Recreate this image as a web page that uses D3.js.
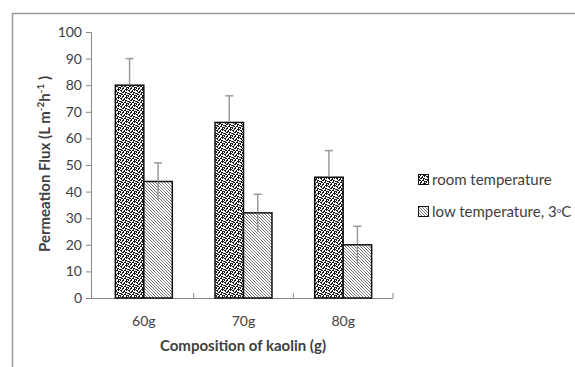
<!DOCTYPE html>
<html>
<head>
<meta charset="utf-8">
<script src="https://cdn.jsdelivr.net/npm/d3@7"></script>
<style>
  body { margin: 0; background: #fff; }
  svg text { font-family: Lato, "Open Sans", sans-serif; fill: #404040; }
</style>
</head>
<body>
<div class="chart"></div>
<script>
// data
const categories = ['60g', '70g', '80g'];
const seriesNames = ['room temperature', 'low temperature, 3'];
const roomValues = [80, 66, 45.4];
const roomErrors = [10, 10, 10];
const lowValues = [43.8, 32, 20];
const lowErrors = [7, 7, 7];
const yTicks = [0, 10, 20, 30, 40, 50, 60, 70, 80, 90, 100];

const width = 575, height = 367;

const svg = d3.select('.chart')
  .append('svg')
  .attr('width', width)
  .attr('height', height);

// fill patterns
const defs = svg.append('defs');
const dots = defs.append('pattern')
  .attr('id', 'confetti')
  .attr('patternUnits', 'userSpaceOnUse')
  .attr('width', 8).attr('height', 8);
dots.append('rect').attr('width', 8).attr('height', 8).attr('fill', '#fff');
const confettiRows = ['10110010', '00100111', '11001010', '01011000', '00110110', '11000101', '01101100', '10010011'];
confettiRows.forEach((row, r) => row.split('').forEach((c, k) => {
  if (c === '1') dots.append('rect').attr('x', k).attr('y', r).attr('width', 1).attr('height', 1).attr('fill', '#1a1a1a');
}));

const hatch = defs.append('pattern')
  .attr('id', 'hatch')
  .attr('patternUnits', 'userSpaceOnUse')
  .attr('width', 3).attr('height', 3);
hatch.append('rect').attr('width', 3).attr('height', 3).attr('fill', '#fff');
hatch.append('path').attr('d', 'M-1,-1 L4,4 M-1,2 L1,4 M2,-1 L4,1')
  .attr('stroke', '#666').attr('stroke-width', 0.9);

// outer frame (only top and left visible)
svg.append('path')
  .attr('d', 'M12.5,367 L12.5,13.5 L575,13.5')
  .attr('fill', 'none').attr('stroke', '#999').attr('stroke-width', 1.5);

const x = d3.scaleBand().domain(categories).range([94, 393]);
const inner = d3.scaleBand().domain([0, 1]).range([0, x.bandwidth()]).paddingInner(0).paddingOuter(0.75);
const y = d3.scaleLinear().domain([0, 100]).range([298, 32]);

// y axis
const yAxis = d3.axisLeft(y).tickValues(yTicks).tickSize(5).tickPadding(4);
const yg = svg.append('g').attr('transform', 'translate(91,0)').call(yAxis);
yg.selectAll('path, line').attr('stroke', '#888');
yg.select('.domain').attr('d', 'M-5,32.5 H0.5 V298.5');
yg.selectAll('text').attr('font-size', 14).style('fill', '#404040').attr('font-family', 'Lato, sans-serif');

// x axis
const xAxis = d3.axisBottom(x).tickSize(0).tickPadding(18);
const xg = svg.append('g').attr('transform', 'translate(0,298)').call(xAxis);
xg.select('.domain').attr('stroke', '#888').attr('d', 'M91,0.5 H393');
xg.selectAll('text').attr('font-size', 14).style('fill', '#404040').attr('font-family', 'Lato, sans-serif');
xg.selectAll('.sep').data(categories).enter().append('line')
  .attr('x1', d => x(d) + x.bandwidth()).attr('x2', d => x(d) + x.bandwidth())
  .attr('y1', -5).attr('y2', 0).attr('stroke', '#888');

const series = [
  { values: roomValues, errors: roomErrors, fill: 'url(#confetti)' },
  { values: lowValues, errors: lowErrors, fill: 'url(#hatch)' }
];

series.forEach((s, si) => {
  const g = svg.append('g');
  const cx = d => x(d) + inner(si) + inner.bandwidth() / 2;
  g.selectAll('rect').data(categories).enter().append('rect')
    .attr('x', d => x(d) + inner(si))
    .attr('width', inner.bandwidth())
    .attr('y', (d, i) => y(s.values[i]))
    .attr('height', (d, i) => y(0) - y(s.values[i]))
    .attr('fill', s.fill)
    .attr('stroke', '#111').attr('stroke-width', 1.5);
  // upper half of error bar and cap
  g.selectAll('line.up').data(categories).enter().append('line')
    .attr('x1', cx).attr('x2', cx)
    .attr('y1', (d, i) => y(s.values[i]) - 1)
    .attr('y2', (d, i) => y(s.values[i] + s.errors[i]))
    .attr('stroke', '#999').attr('stroke-width', 1.5);
  g.selectAll('line.cap').data(categories).enter().append('line')
    .attr('x1', d => cx(d) - 4).attr('x2', d => cx(d) + 4)
    .attr('y1', (d, i) => y(s.values[i] + s.errors[i]))
    .attr('y2', (d, i) => y(s.values[i] + s.errors[i]))
    .attr('stroke', '#999').attr('stroke-width', 1.5);
  if (si === 1) {
    // lower whisker visible through the hatched bar
    g.selectAll('line.low').data(categories).enter().append('line')
      .attr('x1', cx).attr('x2', cx)
      .attr('y1', (d, i) => y(s.values[i]))
      .attr('y2', (d, i) => y(s.values[i] - s.errors[i]))
      .attr('stroke', '#888').attr('stroke-width', 1.2);
  }
});

// axis titles
svg.append('text')
  .attr('transform', 'translate(50,164) rotate(-90)')
  .attr('text-anchor', 'middle')
  .attr('font-size', 15).attr('font-weight', 'bold')
  .call(t => {
    t.append('tspan').text('Permeation Flux (L m');
    t.append('tspan').text('-2').attr('font-size', 10).attr('dy', -6);
    t.append('tspan').text('h').attr('dy', 6);
    t.append('tspan').text('-1').attr('font-size', 10).attr('dy', -6);
    t.append('tspan').text(' )').attr('dy', 6);
  });

svg.append('text')
  .attr('x', 243).attr('y', 351)
  .attr('text-anchor', 'middle')
  .attr('font-size', 15).attr('font-weight', 'bold')
  .text('Composition of kaolin (g)');

// legend
const legend = svg.append('g').attr('transform', 'translate(418,174)');
series.forEach((s, i) => {
  const row = legend.append('g').attr('transform', `translate(0,${i * 32})`);
  row.append('rect').attr('x', 0.5).attr('y', 0.5).attr('width', 10).attr('height', 10)
    .attr('fill', s.fill).attr('stroke', '#111');
  const t = row.append('text').attr('x', 14).attr('y', 10.5).attr('font-size', 15).text(seriesNames[i]);
  if (i === 1) {
    t.append('tspan').text('o').attr('font-size', 8).attr('dy', -4);
    t.append('tspan').text('C').attr('dy', 4);
  }
});
</script>
</body>
</html>
